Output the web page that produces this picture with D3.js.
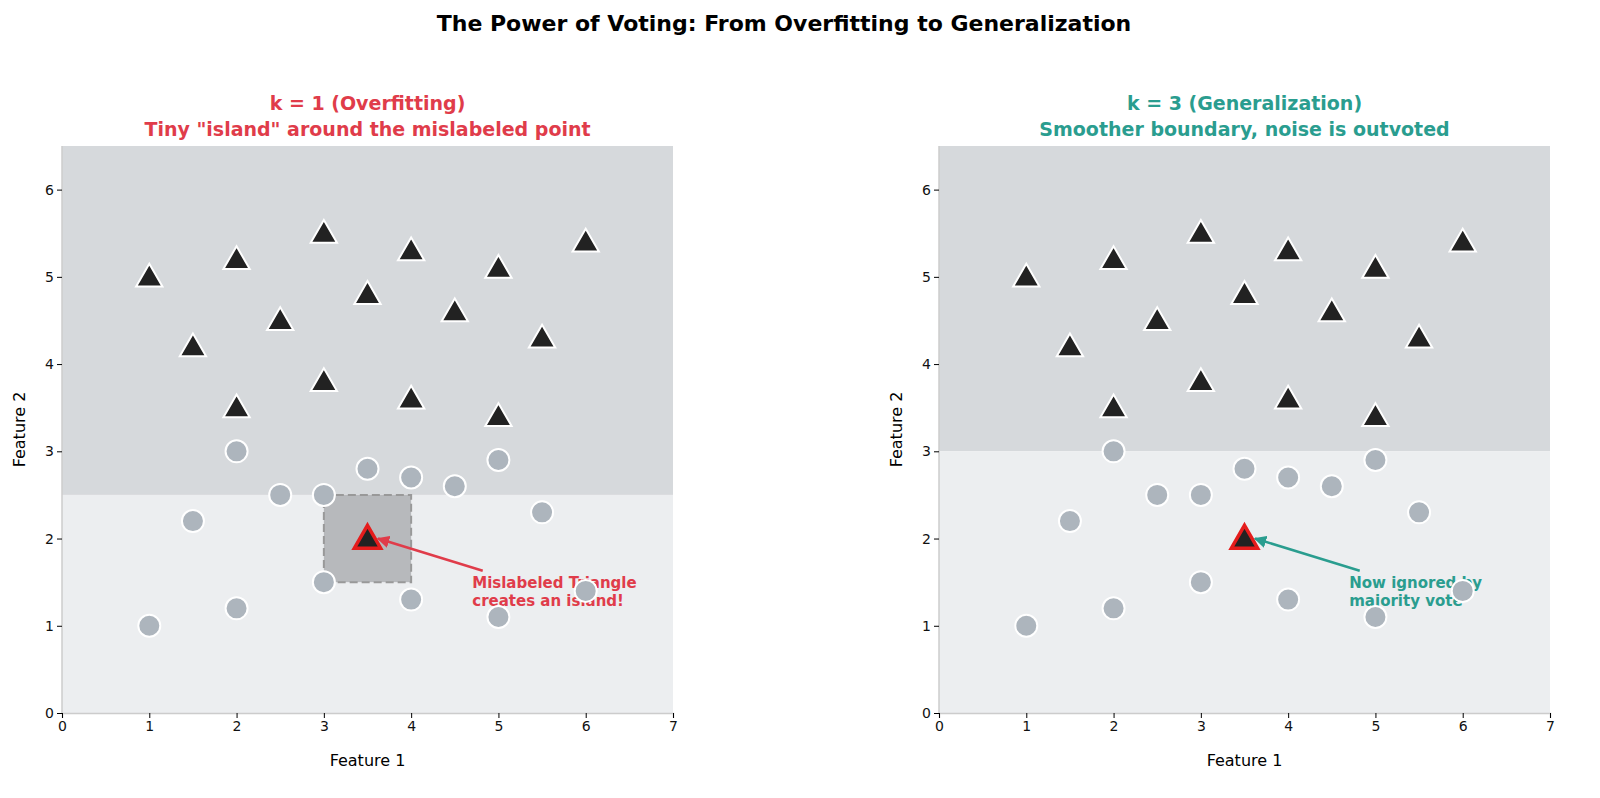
<!DOCTYPE html>
<html><head><meta charset="utf-8">
<script src="https://cdn.jsdelivr.net/npm/d3@7"></script>
<style>body{margin:0;background:#fff;font-family:"DejaVu Sans",sans-serif}</style>
</head><body><div id="chart"></div>
<script>
// data
var triangles = [[1,5],[2,5.2],[3,5.5],[4,5.3],[5,5.1],[6,5.4],[1.5,4.2],[2.5,4.5],[3.5,4.8],[4.5,4.6],[5.5,4.3],[2,3.5],[3,3.8],[4,3.6],[5,3.4]];
var circles = [[1,1],[2,1.2],[3,1.5],[4,1.3],[5,1.1],[6,1.4],[1.5,2.2],[2.5,2.5],[3.5,2.8],[4.5,2.6],[5.5,2.3],[2,3],[3,2.5],[4,2.7],[5,2.9]];
var noisy = [3.5, 2];
var xTicks = [0,1,2,3,4,5,6,7];
var yTicks = [0,1,2,3,4,5,6];
var panels = [
  {left: 62, color: "#e03c4a", boundary: 2.5, island: [3, 4, 1.5, 2.5],
   title: ["k = 1 (Overfitting)", "Tiny \"island\" around the mislabeled point"],
   note: ["Mislabeled Triangle", "creates an island!"]},
  {left: 939, color: "#2a9d8f", boundary: 3.0, island: null,
   title: ["k = 3 (Generalization)", "Smoother boundary, noise is outvoted"],
   note: ["Now ignored by", "majority vote"]}
];

var svg = d3.select("#chart").append("svg").attr("width", 1600).attr("height", 798);

svg.append("text").attr("x", 784).attr("y", 31).attr("text-anchor", "middle")
  .attr("font-size", 22).attr("font-weight", "bold").text("The Power of Voting: From Overfitting to Generalization");

var w = 611, plotTop = 146, plotBottom = 713;

panels.forEach(function (p) {
  var g = svg.append("g").attr("transform", "translate(" + p.left + ",0)");
  var x = d3.scaleLinear().domain([0, 7]).range([0, w]);
  var y = d3.scaleLinear().domain([0, 6.5]).range([plotBottom, plotTop]);

  // decision regions
  g.append("rect").attr("x", x(0)).attr("width", x(7) - x(0)).attr("y", y(6.5)).attr("height", y(p.boundary) - y(6.5)).attr("fill", "#d6d9dc");
  g.append("rect").attr("x", x(0)).attr("width", x(7) - x(0)).attr("y", y(p.boundary)).attr("height", y(0) - y(p.boundary)).attr("fill", "#eceef0");
  if (p.island) {
    var b = p.island;
    g.append("rect").attr("x", x(b[0])).attr("width", x(b[1]) - x(b[0]))
      .attr("y", y(b[3])).attr("height", y(b[2]) - y(b[3]))
      .attr("fill", "#b7b9bc").attr("stroke", "#999").attr("stroke-width", 2).attr("stroke-dasharray", "8,4");
  }

  // axes
  var xa = g.append("g").attr("transform", "translate(0," + plotBottom + ")").call(d3.axisBottom(x).tickValues(xTicks).tickFormat(d3.format("d")).tickSize(5));
  var ya = g.append("g").call(d3.axisLeft(y).tickValues(yTicks).tickFormat(d3.format("d")).tickSize(5));
  [xa, ya].forEach(function (a) {
    a.select(".domain").attr("stroke", "#ccc").attr("stroke-width", 1.5);
    a.selectAll("text").attr("font-size", 14).attr("fill", "#111").attr("font-family", "DejaVu Sans");
  });
  ya.select(".domain").attr("d", "M0," + plotBottom + "V" + plotTop);
  g.append("text").attr("x", w / 2).attr("y", 766).attr("text-anchor", "middle").attr("font-size", 16).text("Feature 1");
  g.append("text").attr("transform", "translate(-37," + (plotTop + plotBottom) / 2 + ") rotate(-90)").attr("text-anchor", "middle").attr("font-size", 16).text("Feature 2");

  // titles
  g.append("text").attr("x", w / 2).attr("y", 110).attr("text-anchor", "middle").attr("font-size", 19).attr("font-weight", "bold").attr("fill", p.color).text(p.title[0]);
  g.append("text").attr("x", w / 2).attr("y", 136).attr("text-anchor", "middle").attr("font-size", 19).attr("font-weight", "bold").attr("fill", p.color).text(p.title[1]);

  // annotation
  var id = "arr" + p.left;
  svg.append("defs").append("marker").attr("id", id).attr("viewBox", "0 0 10 10").attr("refX", 9).attr("refY", 5)
    .attr("markerWidth", 5).attr("markerHeight", 5).attr("orient", "auto")
    .append("path").attr("d", "M0,0L10,5L0,10Z").attr("fill", p.color);
  g.append("line").attr("x1", x(4.82)).attr("y1", y(1.63)).attr("x2", x(3.62)).attr("y2", y(2.0))
    .attr("stroke", p.color).attr("stroke-width", 2.5).attr("marker-end", "url(#" + id + ")");
  p.note.forEach(function (t, i) {
    g.append("text").attr("x", x(4.7)).attr("y", y(1.4) + i * 18 - 3).attr("font-size", 15).attr("font-weight", "bold").attr("fill", p.color).text(t);
  });

  // points
  var tri = d3.symbol().type(d3.symbolTriangle).size(300);
  g.selectAll(".c").data(circles).join("circle").attr("cx", function (d) { return x(d[0]); }).attr("cy", function (d) { return y(d[1]); })
    .attr("r", 11).attr("fill", "#adb5bd").attr("stroke", "#fff").attr("stroke-width", 2);
  g.selectAll(".t").data(triangles).join("path").attr("d", tri)
    .attr("transform", function (d) { return "translate(" + x(d[0]) + "," + (y(d[1]) + 2) + ")"; })
    .attr("fill", "#222").attr("stroke", "#fff").attr("stroke-width", 2);
  g.append("path").attr("d", tri).attr("transform", "translate(" + x(noisy[0]) + "," + (y(noisy[1]) + 2) + ")")
    .attr("fill", "#222").attr("stroke", "#e51c1c").attr("stroke-width", 3.5);
});
</script></body></html>
